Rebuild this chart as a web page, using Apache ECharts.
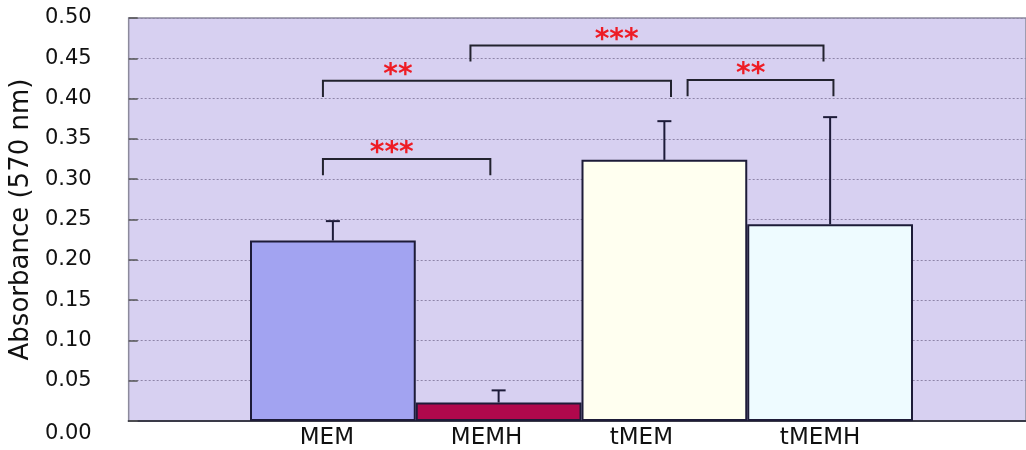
<!DOCTYPE html>
<html><head><meta charset="utf-8">
<script src="https://cdn.jsdelivr.net/npm/echarts@6/dist/echarts.min.js"></script>
<style>html,body{margin:0;padding:0;background:#fff}#c{width:1026px;height:450px}</style>
</head><body><div id="c"></div>
<script>
// ---- data ----
const categories = ['MEM', 'MEMH', 'tMEM', 'tMEMH'];
const means  = [0.224, 0.023, 0.324, 0.244];
const errors = [0.024, 0.015, 0.048, 0.133];
const yMin = 0, yMax = 0.5, yStep = 0.05;
// significance comparisons (x in category units, y in absorbance units)
const sigFrom   = [-0.06, -0.06, 0.83, 2.14];
const sigTo     = [0.95, 2.04, 2.96, 3.02];
const sigLevel  = [0.325, 0.422, 0.466, 0.423];
const sigLabel  = ['***', '**', '***', '**'];
const sigLabelX = [0.355, 0.393, 1.712, 2.521];

// ---- styles ----
const barColors = ['#a2a3f1', '#b0084c', '#fffff0', '#eefbff'];
const labelShift = [6, 12, 23, 10];
const FONT = 'DejaVu Sans';
const INK = '#1d1b38';
const LEG = 0.02;

const rich = {};
labelShift.forEach((s, i) => {
  rich['c' + i] = {fontFamily: FONT, fontSize: 23, color: '#111', padding: [0, 2 * s, 0, 0]};
});

const chart = echarts.init(document.getElementById('c'), null, {renderer: 'canvas'});
chart.setOption({
  animation: false,
  backgroundColor: '#ffffff',
  grid: [
    {left: 127, right: -2, top: 18, bottom: 29, show: true,
     backgroundColor: '#d7d0f1', borderColor: '#8c8a9c', borderWidth: 1.5},
    {left: 250, width: 663, top: 18, bottom: 29}
  ],
  xAxis: [
    {type: 'value', gridIndex: 0, min: 0, max: 1, show: true,
     axisLine: {show: true, lineStyle: {color: '#3a3a48', width: 2}},
     axisTick: {show: false}, axisLabel: {show: false}, splitLine: {show: false}},
    {type: 'category', gridIndex: 1, data: categories,
     axisLine: {show: false}, axisTick: {show: false},
     axisLabel: {interval: 0, hideOverlap: false, fontFamily: FONT, fontSize: 23, color: '#111', margin: 6,
       formatter: (v, i) => '{c' + i + '|' + v + '}', rich: rich}},
    {type: 'value', gridIndex: 1, min: -0.5, max: 3.5, show: false}
  ],
  yAxis: [
    {type: 'value', gridIndex: 0, min: yMin, max: yMax, interval: yStep,
     name: 'Absorbance (570 nm)', nameLocation: 'middle', nameGap: 83,
     nameTextStyle: {fontFamily: FONT, fontSize: 26, color: '#111'},
     axisLine: {show: false},
     axisTick: {show: true, inside: true, length: 9, lineStyle: {color: '#555', width: 1.5}},
     axisLabel: {fontFamily: FONT, fontSize: 21, color: '#111', margin: 37,
       formatter: v => v === 0 ? '{z|0.00}' : v.toFixed(2),
       rich: {z: {fontFamily: FONT, fontSize: 21, color: '#111', padding: [26, 0, 0, 0]}}},
     splitLine: {show: true, lineStyle: {color: '#8e84a8', width: 1, type: [2, 2]}}},
    {type: 'value', gridIndex: 1, min: yMin, max: yMax, show: false}
  ],
  series: [
    {type: 'bar', xAxisIndex: 1, yAxisIndex: 1, barCategoryGap: '0%', z: 3,
     data: means.map((m, i) => ({value: m, itemStyle: {color: barColors[i]}})),
     itemStyle: {borderColor: INK, borderWidth: 2}},
    {type: 'custom', xAxisIndex: 1, yAxisIndex: 1, z: 4,
     data: means.map((m, i) => [i, m, errors[i]]),
     renderItem: (params, api) => {
       const x = api.value(0), m = api.value(1), e = api.value(2);
       const base = api.coord([x, m]);
       const top = api.coord([x, m + e]);
       const st = {stroke: INK, lineWidth: 2};
       return {type: 'group', children: [
         {type: 'line', shape: {x1: top[0], y1: base[1], x2: top[0], y2: top[1]}, style: st},
         {type: 'line', shape: {x1: top[0] - 7, y1: top[1], x2: top[0] + 7, y2: top[1]}, style: st}
       ]};
     }},
    {type: 'custom', xAxisIndex: 2, yAxisIndex: 1, z: 5,
     data: sigFrom.map((f, i) => [f, sigTo[i], sigLevel[i], sigLabelX[i], i]),
     renderItem: (params, api) => {
       const f = api.value(0), t = api.value(1), lv = api.value(2), lx = api.value(3);
       const i = api.value(4);
       const p1 = api.coord([f, lv - LEG]), p2 = api.coord([f, lv]);
       const p3 = api.coord([t, lv]), p4 = api.coord([t, lv - LEG]);
       const lp = api.coord([lx, lv]);
       return {type: 'group', children: [
         {type: 'polyline', shape: {points: [p1, p2, p3, p4]},
          style: {stroke: '#22222e', lineWidth: 2, fill: null}},
         {type: 'text', x: lp[0], y: lp[1] + 9,
          style: {text: sigLabel[i], fill: '#ee1c25', fontFamily: FONT, fontWeight: 'bold',
                  fontSize: 28, align: 'center', verticalAlign: 'bottom'}}
       ]};
     }}
  ]
});
</script></body></html>
